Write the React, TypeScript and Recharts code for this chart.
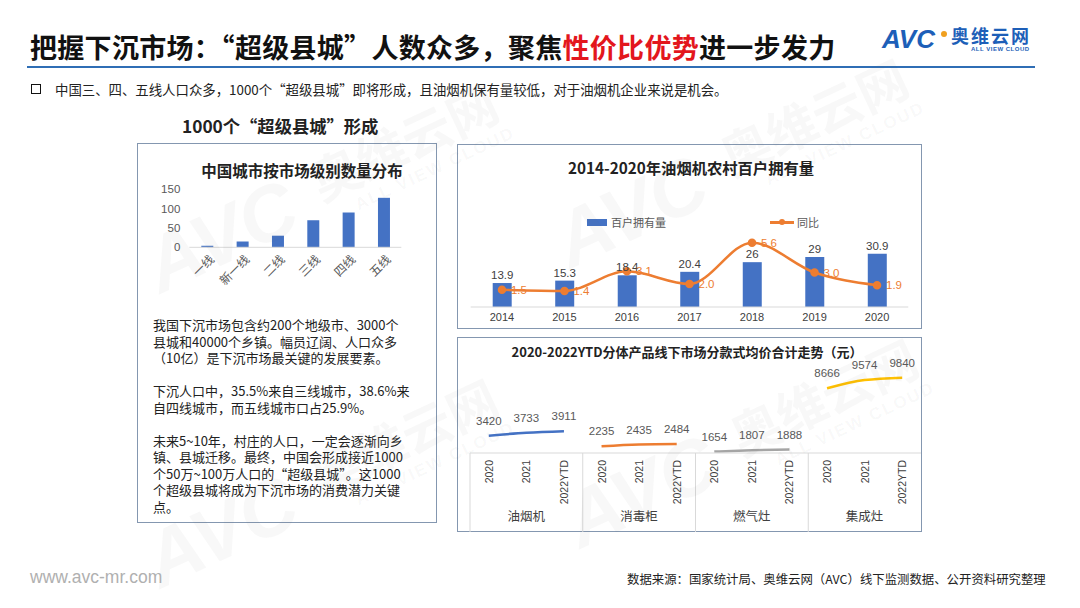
import { Bar, BarChart, ComposedChart, LabelList, Line, XAxis, YAxis } from 'recharts'

const FONT = '"Noto Sans CJK SC", "Noto Sans", sans-serif'
const LATIN = '"Liberation Sans", Arial, sans-serif'

// 中国城市按市场级别数量分布
const cityTiers = ['一线', '新一线', '二线', '三线', '四线', '五线']
const cityCounts = [4, 15, 30, 70, 90, 128]
const cityTicks = [0, 50, 100, 150]

// 2014-2020 油烟机农村百户拥有量
const hoodYears = ['2014', '2015', '2016', '2017', '2018', '2019', '2020']
const hoodPerHundred = [13.9, 15.3, 18.4, 20.4, 26, 29, 30.9]
const hoodYoy = [1.5, 1.4, 3.1, 2.0, 5.6, 3.0, 1.9]

// 2020-2022YTD 分款式均价
const priceGroups = ['油烟机', '消毒柜', '燃气灶', '集成灶']
const priceYears = ['2020', '2021', '2022YTD']
const hoodPrice = [3420, 3733, 3911]
const sterilizerPrice = [2235, 2435, 2484]
const stovePrice = [1654, 1807, 1888]
const integratedPrice = [8666, 9574, 9840]
const priceKeys = ['hood', 'sterilizer', 'stove', 'integrated']
const priceColors = ['#4472c4', '#ed7d31', '#a5a5a5', '#ffc000']

const cityRows = cityTiers.map((tier, i) => ({ tier, count: cityCounts[i] }))
const hoodRows = hoodYears.map((year, i) => ({ year, perHundred: hoodPerHundred[i], yoy: hoodYoy[i] }))
const priceSeries = [hoodPrice, sterilizerPrice, stovePrice, integratedPrice]
const priceRows = priceGroups.flatMap((group, gi) =>
    priceYears.map((year, yi) => ({
        key: `${group}-${year}`,
        group,
        year,
        pos: yi,
        [priceKeys[gi]]: priceSeries[gi][yi]
    }))
)

function Txt({ x, y, size, children, color = '#222', weight = 400, align = 'left', width = 600, family = FONT, style = {} }: any) {
    const h = Math.round(size * 1.5)
    const centered = align === 'center'
    return (
        <div
            style={{
                position: 'absolute',
                left: centered ? x - width / 2 : x,
                top: y - h / 2,
                height: h,
                lineHeight: `${h}px`,
                width: centered ? width : undefined,
                textAlign: align,
                fontSize: size,
                fontWeight: weight,
                color,
                fontFamily: family,
                whiteSpace: 'nowrap',
                ...style
            }}
        >
            {children}
        </div>
    )
}

function Box({ left, top, right, bottom }: any) {
    return (
        <div
            style={{
                position: 'absolute',
                left,
                top,
                width: right - left + 1,
                height: bottom - top + 1,
                boxSizing: 'border-box',
                border: '1px solid #8497b0'
            }}
        />
    )
}

function Watermark({ cx, cy }: any) {
    return (
        <div
            style={{
                position: 'absolute',
                left: cx - 200,
                top: cy - 50,
                width: 400,
                height: 100,
                transform: 'rotate(-25deg)',
                color: 'rgba(90,90,90,0.045)',
                fontFamily: FONT,
                fontWeight: 700,
                pointerEvents: 'none',
                whiteSpace: 'nowrap'
            }}
        >
            <span style={{ position: 'absolute', left: 0, top: 0, fontSize: 78, lineHeight: '100px', fontStyle: 'italic', fontFamily: LATIN }}>
                AVC
            </span>
            <span style={{ position: 'absolute', left: 185, top: 10, fontSize: 50, lineHeight: '60px' }}>奥维云网</span>
            <span style={{ position: 'absolute', left: 215, top: 70, fontSize: 17, lineHeight: '20px', letterSpacing: 2, fontFamily: LATIN }}>
                ALL VIEW CLOUD
            </span>
        </div>
    )
}

function TierTick({ x, y, payload }: any) {
    return (
        <text
            transform={`translate(${x + 5},${y + 10}) rotate(-45)`}
            textAnchor="end"
            dy="0.35em"
            fontSize={12}
            fill="#595959"
        >
            {payload.value}
        </text>
    )
}

function PriceTick({ x, y, index, payload }: any) {
    const row = priceRows[index]
    const half = payload?.offset || 18.8
    if (!row) return null
    return (
        <g>
            <text
                transform={`translate(${x + 4},${y + 7}) rotate(-90)`}
                textAnchor="end"
                fontSize={10.5}
                fill="#404040"
                fontFamily={LATIN}
            >
                {row.year}
            </text>
            {row.pos === 0 && <line x1={x - half} x2={x - half} y1={y} y2={y + 79} stroke="#d9d9d9" />}
            {row.pos === 1 && (
                <text x={x} y={y + 64} dy="0.35em" textAnchor="middle" fontSize={12.5} fill="#404040">
                    {row.group}
                </text>
            )}
        </g>
    )
}

function PriceLabel(props: any) {
    const { value } = props
    if (value == null) return null
    const x = props.x ?? props.viewBox?.x
    const y = props.y ?? props.viewBox?.y
    if (x == null || y == null) return null
    return (
        <text x={x} y={y - 15} dy="0.35em" textAnchor="middle" fontSize={11.5} fill="#595959" fontFamily={LATIN}>
            {value}
        </text>
    )
}

export default function App() {
    return (
        <div
            style={{
                position: 'absolute',
                left: 0,
                top: 0,
                width: 1080,
                height: 608,
                overflow: 'hidden',
                background: '#fff',
                fontFamily: FONT
            }}
        >
            {/* 标题 */}
            <Txt x={30} y={46} size={27} weight={700} color="#111" style={{ letterSpacing: 0.3 }}>
                把握下沉市场：“超级县城”人数众多，聚焦<span style={{ color: '#e3161d' }}>性价比优势</span>进一步发力
            </Txt>
            <div style={{ position: 'absolute', left: 27, top: 66, width: 1008, height: 2, background: '#2f6eb5' }} />

            {/* logo */}
            <Txt x={882} y={39} size={26} weight={700} color="#1d5fb8" family={LATIN} style={{ fontStyle: 'italic', letterSpacing: 0 }}>
                AVC
            </Txt>
            <div style={{ position: 'absolute', left: 941, top: 31, width: 6, height: 6, borderRadius: 3, background: '#f0a020' }} />
            <Txt x={951} y={35} size={18} weight={700} color="#1d5fb8" style={{ letterSpacing: 2 }}>
                奥维云网
            </Txt>
            <Txt x={971} y={49} size={6} weight={700} color="#1d5fb8" family={LATIN} style={{ letterSpacing: 0.5 }}>
                ALL VIEW CLOUD
            </Txt>

            {/* 要点 */}
            <div style={{ position: 'absolute', left: 31, top: 84, width: 8, height: 8, border: '1.6px solid #111' }} />
            <Txt x={55} y={89} size={13.4} color="#222">
                中国三、四、五线人口众多，1000个“超级县城”即将形成，且油烟机保有量较低，对于油烟机企业来说是机会。
            </Txt>

            <Txt x={182} y={126} size={17.3} weight={700} color="#222">
                1000个“超级县城”形成
            </Txt>

            <Box left={137} top={143} right={436} bottom={522} />
            <Box left={457} top={144} right={921} bottom={328} />
            <Box left={457} top={337} right={921} bottom={531} />

            {/* 左：城市分布 */}
            <Txt x={302} y={170} size={15.5} weight={700} color="#222" align="center" width={280}>
                中国城市按市场级别数量分布
            </Txt>
            <div style={{ position: 'absolute', left: 137, top: 144 }}>
                <BarChart width={300} height={170} data={cityRows} margin={{ top: 45.3, right: 35.7, left: 12.3, bottom: 6.7 }}>
                    <XAxis
                        dataKey="tier"
                        height={60}
                        interval={0}
                        tickLine={false}
                        tickSize={0}
                        tickMargin={0}
                        axisLine={{ stroke: '#d9d9d9' }}
                        tick={<TierTick />}
                    />
                    <YAxis
                        width={40}
                        domain={[0, 150]}
                        ticks={cityTicks}
                        axisLine={false}
                        tickLine={false}
                        tickSize={0}
                        tickMargin={9}
                        tick={{ fontSize: 11.5, fill: '#595959', fontFamily: LATIN }}
                    />
                    <Bar dataKey="count" fill="#4472c4" barSize={12} isAnimationActive={false} />
                </BarChart>
            </div>
            <div
                style={{
                    position: 'absolute',
                    left: 153,
                    top: 317,
                    fontSize: 13,
                    lineHeight: '16.5px',
                    color: '#222',
                    whiteSpace: 'nowrap'
                }}
            >
                我国下沉市场包含约200个地级市、3000个
                <br />
                县城和40000个乡镇。幅员辽阔、人口众多
                <br />
                （10亿）是下沉市场最关键的发展要素。
                <br />
                <br />
                下沉人口中，35.5%来自三线城市，38.6%来
                <br />
                自四线城市，而五线城市口占25.9%。
                <br />
                <br />
                未来5~10年，村庄的人口，一定会逐渐向乡
                <br />
                镇、县城迁移。最终，中国会形成接近1000
                <br />
                个50万~100万人口的“超级县城”。这1000
                <br />
                个超级县城将成为下沉市场的消费潜力关键
                <br />
                点。
            </div>

            {/* 右上：百户拥有量 */}
            <Txt x={691} y={167} size={15.3} weight={700} color="#222" align="center" width={320}>
                2014-2020年油烟机农村百户拥有量
            </Txt>
            <div style={{ position: 'absolute', left: 587, top: 219, width: 20, height: 7, background: '#4472c4' }} />
            <Txt x={611} y={222} size={11} color="#595959">
                百户拥有量
            </Txt>
            <div style={{ position: 'absolute', left: 770, top: 221, width: 24, height: 2.5, background: '#ed7d31' }} />
            <div style={{ position: 'absolute', left: 779, top: 219, width: 6, height: 6, borderRadius: 3, background: '#ed7d31' }} />
            <Txt x={797} y={222} size={11} color="#595959">
                同比
            </Txt>
            <div style={{ position: 'absolute', left: 457, top: 144 }}>
                <ComposedChart width={465} height={184} data={hoodRows} margin={{ top: 63, right: 13.7, left: 13.7, bottom: 5 }}>
                    <XAxis
                        dataKey="year"
                        height={16}
                        tickLine={false}
                        tickSize={4}
                        axisLine={{ stroke: '#d9d9d9' }}
                        tick={{ fontSize: 11, fill: '#404040', fontFamily: LATIN }}
                    />
                    <YAxis yAxisId="bar" hide domain={[0, 58]} />
                    <YAxis yAxisId="yoy" hide orientation="right" domain={[0, 8.7]} />
                    <Bar yAxisId="bar" dataKey="perHundred" fill="#4472c4" barSize={19} isAnimationActive={false}>
                        <LabelList dataKey="perHundred" position="top" offset={4} fontSize={11.5} fill="#404040" fontFamily={LATIN} />
                    </Bar>
                    <Line
                        yAxisId="yoy"
                        type="monotone"
                        dataKey="yoy"
                        stroke="#ed7d31"
                        strokeWidth={2.5}
                        dot={{ r: 3, fill: '#ed7d31', stroke: '#ed7d31' }}
                        isAnimationActive={false}
                    >
                        <LabelList
                            dataKey="yoy"
                            position="right"
                            offset={9}
                            fontSize={11.5}
                            fill="#ed7d31"
                            fontFamily={LATIN}
                            formatter={(v: any) => Number(v).toFixed(1)}
                        />
                    </Line>
                </ComposedChart>
            </div>

            {/* 右下：均价走势 */}
            <Txt x={687} y={352} size={13} weight={700} color="#222" align="center" width={400}>
                2020-2022YTD分体产品线下市场分款式均价合计走势（元）
            </Txt>
            <div style={{ position: 'absolute', left: 457, top: 337 }}>
                <ComposedChart width={465} height={195} data={priceRows} margin={{ top: 23, right: 1, left: 13, bottom: 0 }}>
                    <XAxis
                        dataKey="key"
                        scale="band"
                        height={79}
                        interval={0}
                        tickLine={false}
                        tickSize={0}
                        tickMargin={0}
                        axisLine={{ stroke: '#d9d9d9' }}
                        tick={<PriceTick />}
                    />
                    <YAxis hide domain={[1500, 11800]} />
                    {priceKeys.map((k, i) => (
                        <Line
                            key={k}
                            type="monotone"
                            dataKey={k}
                            stroke={priceColors[i]}
                            strokeWidth={2.5}
                            dot={false}
                            connectNulls={false}
                            isAnimationActive={false}
                        >
                            <LabelList dataKey={k} content={<PriceLabel />} />
                        </Line>
                    ))}
                </ComposedChart>
            </div>

            {/* 水印 */}
            <Watermark cx={330} cy={185} />
            <Watermark cx={740} cy={160} />
            <Watermark cx={330} cy={480} />
            <Watermark cx={750} cy={440} />

            {/* 页脚 */}
            <Txt x={30} y={577} size={17.5} color="#b0b0b0" family={LATIN}>
                www.avc-mr.com
            </Txt>
            <Txt x={627} y={579} size={12.4} color="#222">
                数据来源：国家统计局、奥维云网（AVC）线下监测数据、公开资料研究整理
            </Txt>
        </div>
    )
}
